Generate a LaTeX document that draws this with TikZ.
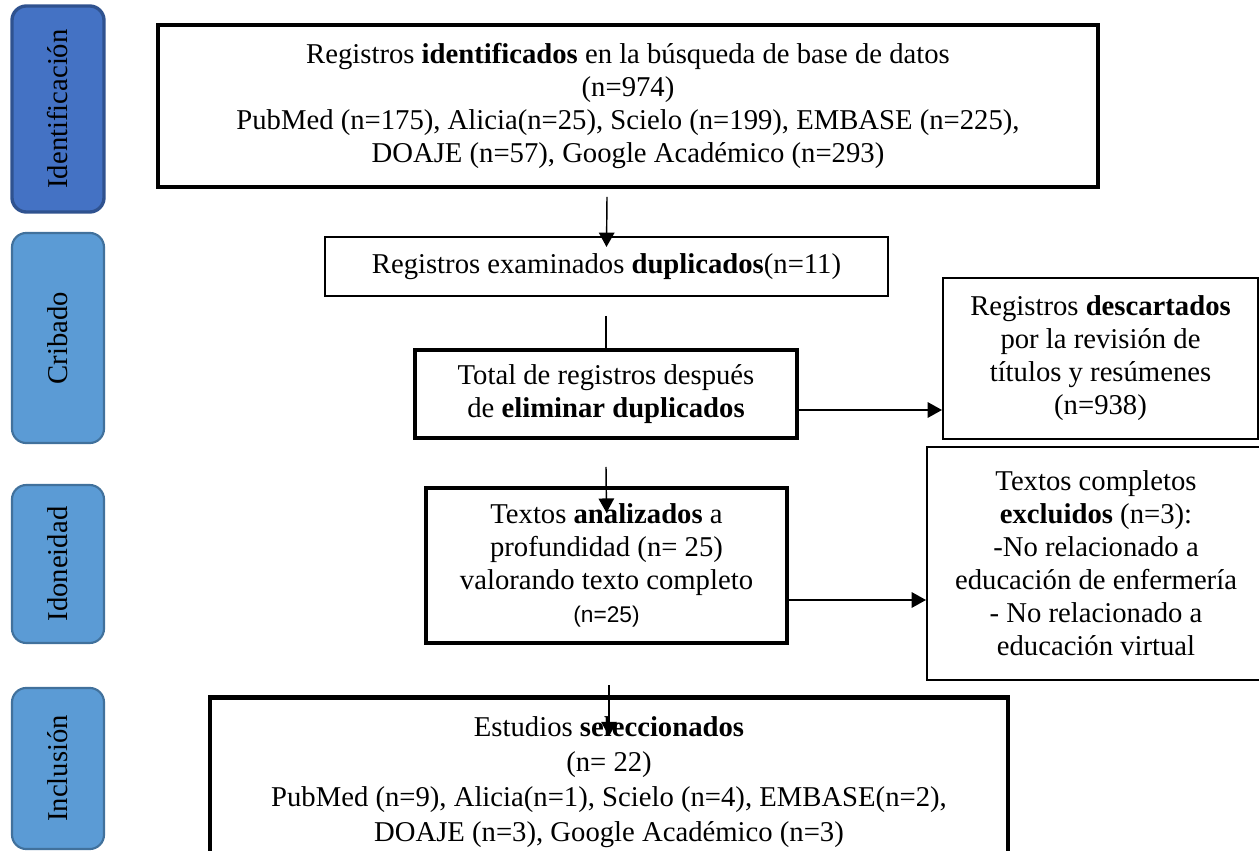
\documentclass[tikz,border=0pt]{standalone}
\usepackage{fontspec}
\setmainfont{Liberation Serif}
\newfontfamily\arialfont{Liberation Sans}
\usetikzlibrary{arrows.meta}
\definecolor{darkblue}{HTML}{4472C4}
\definecolor{darkblueline}{HTML}{2F528F}
\definecolor{lightblue}{HTML}{5B9BD5}
\definecolor{lightblueline}{HTML}{41719C}

\begin{document}
\begin{tikzpicture}[->, >={Triangle[length=6pt,width=6.5pt]}, x=0.4184pt, y=-0.4184pt,
  main node/.style={rectangle, draw, line width=1.8pt, align=center},
  thin node/.style={rectangle, draw, line width=0.85pt, align=center},
  side node/.style={rectangle, rounded corners=6pt, rotate=90, draw=lightblueline, fill=lightblue, line width=0.9pt, minimum height=38.5pt}]
        \tikzstyle{every node}=[font=\fontsize{12}{13.8}\selectfont, inner sep=0pt]
        \useasboundingbox (0,0) rectangle (1259,851);
        \clip (0,0) rectangle (1259,851);

          \node[side node, draw=darkblueline, fill=darkblue, line width=1.4pt, minimum width=86.2pt] (s1) at (58,109) {Identificación};
          \node[side node, minimum width=87.9pt] (s2) at (58,338) {Cribado};
          \node[side node, minimum width=66.1pt] (s3) at (58,564) {Idoneidad};
          \node[side node, minimum width=67.4pt] (s4) at (58,768.5) {Inclusión};

          \node[main node, minimum width=393.3pt, minimum height=67.8pt] (1) at (628,106) {Registros \textbf{identificados} en la búsqueda de base de datos\\(n=974)\\PubMed (n=175), Alicia(n=25), Scielo (n=199), EMBASE (n=225),\\DOAJE (n=57), Google Académico (n=293)};
          \node[thin node, minimum width=235.6pt, minimum height=24.7pt] (2) at (606.5,266.5) {Registros examinados \textbf{duplicados}(n=11)};
          \node[main node, minimum width=159.8pt, minimum height=36.8pt] (3) at (606,394) {Total de registros después\\de \textbf{eliminar duplicados}};
          \node[thin node, minimum width=131.8pt, minimum height=67.4pt] (4) at (1100.5,358.5) {Registros \textbf{descartados}\\por la revisión de\\títulos y resúmenes\\(n=938)};
          \node[main node, minimum width=151pt, minimum height=64.9pt] (5) at (606.5,565.5) {Textos \textbf{analizados} a\\profundidad (n= 25)\\valorando texto completo\\{\arialfont\fontsize{9.5}{11}\selectfont (n=25)}};
          \node[thin node, minimum width=141.4pt, minimum height=97.5pt] (6) at (1096,563.5) {Textos completos\\\textbf{excluidos} (n=3):\\-No relacionado a\\educación de enfermería\\- No relacionado a\\educación virtual};
          \node[main node, minimum width=333.9pt, minimum height=70.7pt, font=\fontsize{12}{14.6}\selectfont] (7) at (609,782) {Estudios \textbf{seleccionados}\\(n= 22)\\PubMed (n=9), Alicia(n=1), Scielo (n=4), EMBASE(n=2),\\DOAJE (n=3), Google Académico (n=3)};

          \coordinate (c1) at (607,197);
          \coordinate (c2) at (606,316);
          \coordinate (c3) at (606,467);
          \coordinate (c4) at (609,685);
          \coordinate (h1) at (0,410);
          \coordinate (h2) at (0,600);

          \path[line width=0.6pt]
            (c1) edge ([yshift=-4.6pt]2.north)
            (c2) edge[-] (3.north)
            (3.east |- h1) edge (4.west |- h1)
            (c3) edge ([yshift=-11.3pt]5.north)
            (5.east |- h2) edge (6.west |- h2)
            (c4) edge ([yshift=-17.1pt]7.north);

        \end{tikzpicture}
\end{document}
